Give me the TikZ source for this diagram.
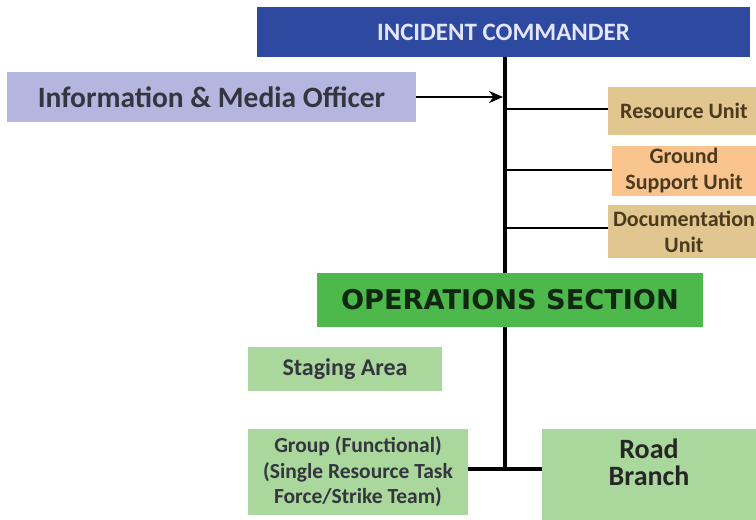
\documentclass[tikz,border=0pt]{standalone}
\usepackage{fontspec}
\setmainfont{Carlito}
\newfontfamily\opsfont{DejaVu Sans}
\usetikzlibrary{arrows.meta}
\definecolor{icblue}{HTML}{2E49A0}
\definecolor{infofill}{HTML}{B4B6E0}
\definecolor{tanfill}{HTML}{E2C690}
\definecolor{orangefill}{HTML}{F9C48E}
\definecolor{opsgreen}{HTML}{4DB94D}
\definecolor{lightgreen}{HTML}{A9D79C}
\definecolor{darktext}{HTML}{35353F}
\definecolor{browntext}{HTML}{4A3A1E}
\definecolor{opstext}{HTML}{10280F}
\tikzset{
  box/.style={rectangle, inner sep=0pt, outer sep=0pt, align=center, font=\bfseries},
  unitbox/.style={box, text=browntext, minimum width=160pt, font=\bfseries\fontsize{22}{26}\selectfont},
  greenbox/.style={box, fill=lightgreen, text=darktext},
  link/.style={line width=2.6pt, black},
  trunk/.style={line width=4pt, black},
}
\begin{document}
\begin{tikzpicture}[x=1pt,y=-1pt]
\useasboundingbox (0,0) rectangle (756,520);
\fill[white] (0,0) rectangle (756,520);
% trunk line
\coordinate (top) at (505,57);
\coordinate (j1) at (505,109);
\coordinate (j2) at (505,170);
\coordinate (j3) at (505,228);
\coordinate (bot) at (505,469);
\coordinate (arrtip) at (503,99);
\draw[trunk] (top) -- (bot);
% boxes
\node[box, fill=icblue, text=white!90!blue, minimum width=493pt, minimum height=50pt, font=\bfseries\fontsize{25}{28}\selectfont] (ic) at (503.5,32) {INCIDENT COMMANDER};
\node[box, fill=infofill, text=darktext, minimum width=409pt, minimum height=50pt, font=\bfseries\fontsize{29.5}{32}\selectfont] (info) at (211.5,97) {Information \& Media Officer};
\node[unitbox, fill=tanfill, minimum height=48pt, minimum width=152pt] (res) at (684,111) {Resource Unit};
\node[unitbox, fill=orangefill, minimum width=144pt, minimum height=50pt] (gsu) at (684,171) {Ground\\Support Unit};
\node[unitbox, fill=tanfill, minimum height=53pt, minimum width=152pt] (doc) at (684,231.5) {Documentation\\Unit};
\node[box, fill=opsgreen, text=opstext, minimum width=386pt, minimum height=54pt, font=\opsfont\bfseries\fontsize{27.2}{30}\selectfont] (ops) at (510,300) {OPERATIONS SECTION};
\node[greenbox, minimum width=194pt, minimum height=44pt, font=\bfseries\fontsize{24}{27}\selectfont] (stg) at (345,369) {Staging Area};
\node[greenbox, minimum width=220pt, minimum height=86pt, font=\bfseries\fontsize{21.5}{25.5}\selectfont] (grp) at (358,472) {Group (Functional)\\(Single Resource Task\\Force/Strike Team)};
\node[greenbox, minimum width=220pt, minimum height=95pt, anchor=north west] (road) at (542,429) {};
\node[box, text=black!85, font=\bfseries\fontsize{28}{27}\selectfont] (roadtxt) at (649,462) {Road\\Branch};
% connectors
\draw[link, -{Stealth[length=14pt,width=12pt]}] (info.east) -- (info.east -| arrtip);
\draw[link] (j1) -- (j1 -| res.west);
\draw[link] (j2) -- (j2 -| gsu.west);
\draw[link] (j3) -- (j3 -| doc.west);
\draw[link, line width=3.4pt] (grp.east |- bot) -- (road.west |- bot);
\end{tikzpicture}
\end{document}
